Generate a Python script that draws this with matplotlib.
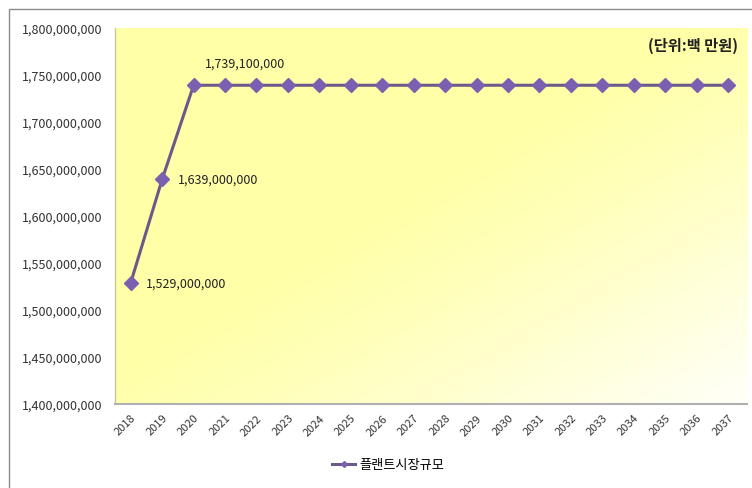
import numpy as np
import matplotlib
matplotlib.use("Agg")
import matplotlib.pyplot as plt
from matplotlib.patches import Rectangle
from matplotlib.ticker import FuncFormatter
from matplotlib.lines import Line2D

plt.rcParams['font.family'] = ['Noto Sans CJK KR', 'DejaVu Sans']

years = [str(y) for y in range(2018, 2038)]
market_size = [1529000000, 1639000000] + [1739100000] * 18
series_name = "플랜트시장규모"
unit_note = "(단위:백 만원)"
labeled_idx = [0, 1, 2]

fig = plt.figure(figsize=(7.52, 4.89), dpi=100)
fig.patch.set_facecolor("white")

# outer chart frame
fig.patches.append(Rectangle((9 / 752, -0.02), 1.2, 1 - 10 / 489 + 0.02,
                             transform=fig.transFigure, fill=False,
                             edgecolor="#8a8a8a", linewidth=1.0, zorder=0))

ax = fig.add_axes([115 / 752, 1 - 405 / 489, (747 - 115) / 752, (405 - 29) / 489])
x = np.arange(len(years))
ax.set_xlim(-0.5, 19.6)
ax.set_ylim(1.4e9, 1.8e9)

# diagonal yellow-to-white fill of the plot area
nx, ny = 300, 200
gx, gy = np.meshgrid(np.linspace(0, 1, nx), np.linspace(0, 1, ny))
t = (gx + gy) / 2.0
w = np.clip((t - 0.45) / 0.55, 0, 1) ** 1.2
yellow = np.array([255, 255, 168]) / 255.0
white = np.array([1.0, 1.0, 0.98])
img = yellow[None, None, :] * (1 - w[..., None]) + white[None, None, :] * w[..., None]
ax.imshow(img, extent=[0, 1, 0, 1], transform=ax.transAxes, aspect="auto",
          zorder=0, origin="upper")

for s in ["top", "right"]:
    ax.spines[s].set_visible(False)
ax.spines["left"].set_color("#c8c8a0")
ax.spines["bottom"].set_color("#b0b0b0")
ax.spines["left"].set_linewidth(1.0)
ax.spines["bottom"].set_linewidth(1.5)

ax.plot(x, market_size, color="#6a5a8a", linewidth=2.2, zorder=3,
        marker="D", markersize=7, markerfacecolor="#7b5fb0",
        markeredgecolor="#7b5fb0")

ax.set_yticks(np.arange(1.4e9, 1.8e9 + 1, 5e7))
ax.yaxis.set_major_formatter(FuncFormatter(lambda v, p: f"{v:,.0f}"))
ax.set_xticks(x)
ax.set_xticklabels(years, rotation=45, ha="right", rotation_mode="anchor",
                   fontsize=8, color="#333333")
ax.tick_params(axis="y", length=0, labelsize=9, labelcolor="#333333", pad=9)
ax.tick_params(axis="x", length=0, pad=6)

offsets = {0: (11, 0), 1: (11, 0), 2: (8, 16)}
for i in labeled_idx:
    dx, dy = offsets[i]
    ax.annotate(f"{market_size[i]:,}", (x[i], market_size[i]),
                xytext=(dx, dy), textcoords="offset points",
                ha="left", va="center", fontsize=9, color="#222222", zorder=4)

ax.text(0.985, 0.955, unit_note, transform=ax.transAxes, ha="right", va="center",
        fontsize=11, fontweight="bold", color="#222222")

handle = Line2D([], [], color="#6a5a8a", linewidth=2.2, marker="D", markersize=3,
                markerfacecolor="#7b5fb0", markeredgecolor="#7b5fb0")
fig.legend([handle], [series_name], loc="center", bbox_to_anchor=(388 / 752, 1 - 466 / 489),
           frameon=False, fontsize=9.5, handlelength=1.8, handletextpad=0.3)

fig.savefig("out.png", dpi=100, facecolor="white")
